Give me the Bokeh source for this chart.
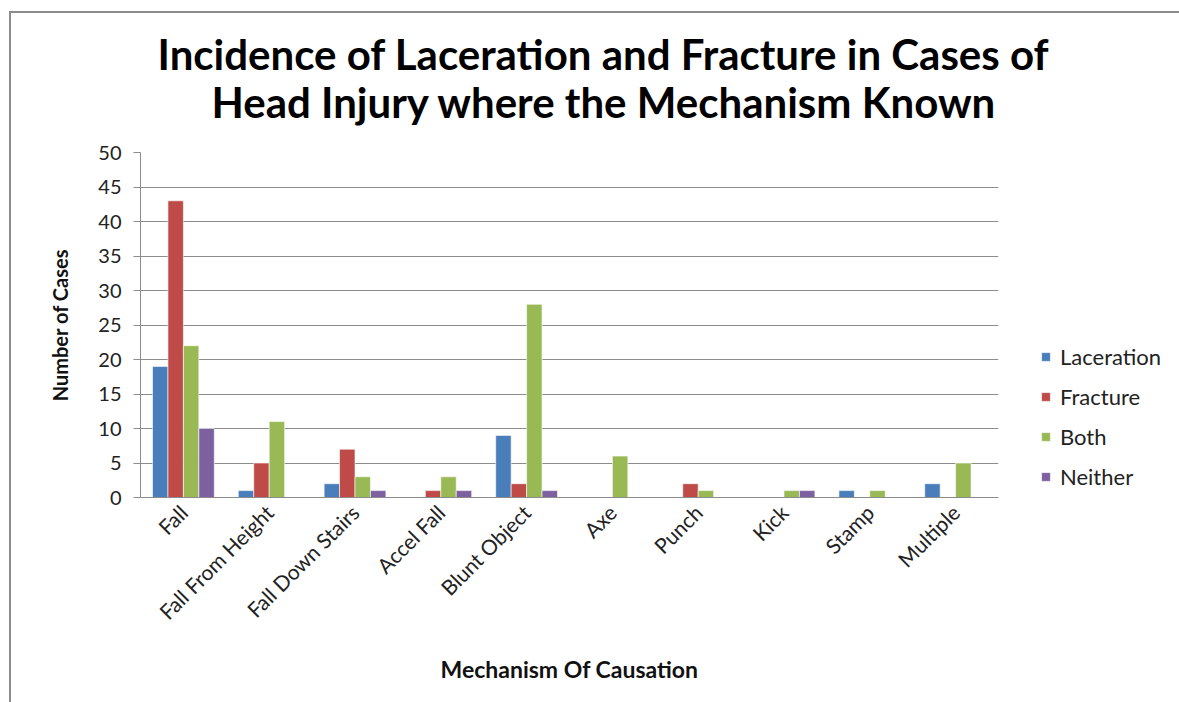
from math import pi
from bokeh.plotting import figure
from bokeh.models import ColumnDataSource, Legend, LegendItem, Title
from bokeh.transform import dodge
from bokeh.embed import file_html
from bokeh.resources import INLINE

categories = ["Fall", "Fall From Height", "Fall Down Stairs", "Accel Fall", "Blunt Object",
              "Axe", "Punch", "Kick", "Stamp", "Multiple"]
laceration = [19, 1, 2, 0, 9, 0, 0, 0, 1, 2]
fracture = [43, 5, 7, 1, 2, 0, 2, 0, 0, 0]
both = [22, 11, 3, 3, 28, 6, 1, 1, 1, 5]
neither = [10, 0, 1, 1, 1, 0, 0, 1, 0, 0]
series_names = ["Laceration", "Fracture", "Both", "Neither"]
colors = ["#4a7ebb", "#be4b48", "#98b954", "#7d60a0"]

src = ColumnDataSource(dict(cat=categories, Laceration=laceration, Fracture=fracture,
                            Both=both, Neither=neither))

FONT = "Lato"
p = figure(x_range=categories, y_range=(0, 50), frame_width=858, frame_height=345,
           output_backend="svg", toolbar_location=None,
           min_border_left=129, min_border_right=174, min_border_bottom=210, min_border_top=139)
p.styles = {"border-left": "2px solid #8c8c8c", "border-top": "2px solid #8c8c8c",
            "margin-left": "9px", "margin-top": "11px"}

bw = 0.18
offsets = [-1.5 * bw, -0.5 * bw, 0.5 * bw, 1.5 * bw]
renderers = []
for name, c, off in zip(series_names, colors, offsets):
    r = p.vbar(x=dodge("cat", off, range=p.x_range), top=name, width=bw, source=src,
               fill_color=c, line_color="white", line_width=0.6)
    renderers.append(r)

legend = Legend(items=[LegendItem(label=n, renderers=[r]) for n, r in zip(series_names, renderers)],
                location=(42, 7), label_text_font=FONT, label_text_font_size="22px",
                label_text_color="#222222", glyph_width=11, glyph_height=11, label_height=26,
                spacing=13, border_line_color=None, background_fill_alpha=0,
                padding=0, margin=0, label_standoff=9)
p.add_layout(legend, "right")

p.add_layout(Title(text="Head Injury where the Mechanism Known", align="left",
                   text_font=FONT, text_font_size="42px", text_font_style="bold",
                   text_color="#000000", offset=71, standoff=51), "above")
p.add_layout(Title(text="Incidence of Laceration and Fracture in Cases of", align="left",
                   text_font=FONT, text_font_size="42px", text_font_style="bold",
                   text_color="#000000", offset=17, standoff=-59), "above")
p.title.visible = False

p.outline_line_color = None
p.xgrid.grid_line_color = None
p.ygrid.grid_line_color = "#8c8c8c"
p.ygrid.grid_line_width = 1
p.yaxis.ticker = list(range(0, 51, 5))
p.yaxis.axis_line_color = "#8c8c8c"
p.yaxis.major_tick_line_color = "#8c8c8c"
p.yaxis.major_tick_out = 7
p.yaxis.major_tick_in = 0
p.yaxis.minor_tick_line_color = None
p.yaxis.major_label_standoff = 12
p.yaxis.major_label_text_font = FONT
p.yaxis.major_label_text_font_size = "20px"
p.yaxis.major_label_text_color = "#222222"
p.yaxis.axis_label = "Number of Cases"
p.yaxis.axis_label_text_font = FONT
p.yaxis.axis_label_text_font_size = "20px"
p.yaxis.axis_label_text_font_style = "bold"
p.yaxis.axis_label_text_color = "#111111"
p.yaxis.axis_label_standoff = 23

p.xaxis.axis_line_color = "#8c8c8c"
p.xaxis.major_tick_line_color = None
p.xaxis.major_label_orientation = pi / 4
p.xaxis.major_label_text_font = FONT
p.xaxis.major_label_text_font_size = "21px"
p.xaxis.major_label_text_color = "#222222"
p.xaxis.axis_label = "Mechanism Of Causation"
p.xaxis.axis_label_text_font = FONT
p.xaxis.axis_label_text_font_size = "23px"
p.xaxis.axis_label_text_font_style = "bold"
p.xaxis.axis_label_text_color = "#111111"
p.xaxis.axis_label_standoff = 19

open("out.html", "w").write(file_html(p, INLINE))
